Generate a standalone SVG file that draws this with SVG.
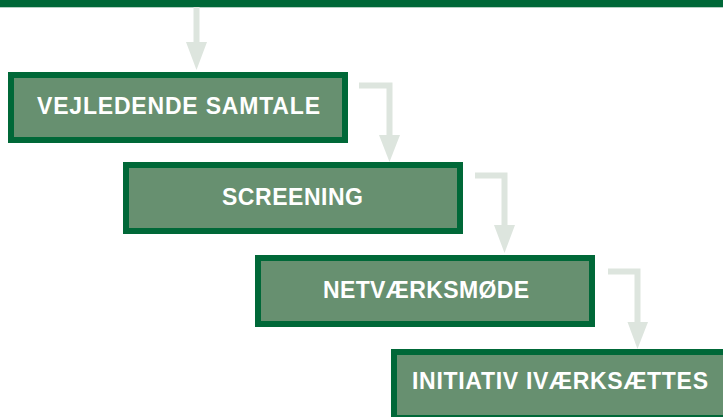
<svg xmlns="http://www.w3.org/2000/svg" width="723" height="417" viewBox="0 0 723 417">
<style>
.box{fill:#679070;stroke:#006838;stroke-width:6}
.lbl{font-family:"Liberation Sans",Arial,sans-serif;font-weight:bold;font-size:23px;fill:#ffffff}
.shaft{fill:none;stroke:#dde5de;stroke-width:6}
.head{fill:#dde5de}
</style>
<rect id="topbar" x="0" y="0" width="723" height="7.3" fill="#006838"/>
<g id="connectors">
<path class="shaft" d="M196.5,7 V43"/>
<polygon class="head" points="186,42 207,42 196.5,70"/>
<path class="shaft" d="M359,85.5 H389.5 V136"/>
<polygon class="head" points="379,135 400,135 389.5,162"/>
<path class="shaft" d="M475,175.5 H504.5 V226"/>
<polygon class="head" points="494,225 515,225 504.5,253"/>
<path class="shaft" d="M608,271.5 H637.5 V323"/>
<polygon class="head" points="627.5,322 648,322 637.5,349"/>
</g>
<g id="node1">
<rect class="box" x="11" y="75" width="334" height="65"/>
<text class="lbl" x="37" y="113.5" textLength="283">VEJLEDENDE SAMTALE</text>
</g>
<g id="node2">
<rect class="box" x="126" y="165" width="334" height="66"/>
<text class="lbl" x="222" y="205" textLength="141">SCREENING</text>
</g>
<g id="node3">
<rect class="box" x="258" y="258" width="334" height="66"/>
<text class="lbl" x="323" y="298" textLength="206">NETVÆRKSMØDE</text>
</g>
<g id="node4">
<rect class="box" x="394" y="352" width="334" height="66"/>
<text class="lbl" x="412" y="389" textLength="296">INITIATIV IVÆRKSÆTTES</text>
</g>
</svg>
